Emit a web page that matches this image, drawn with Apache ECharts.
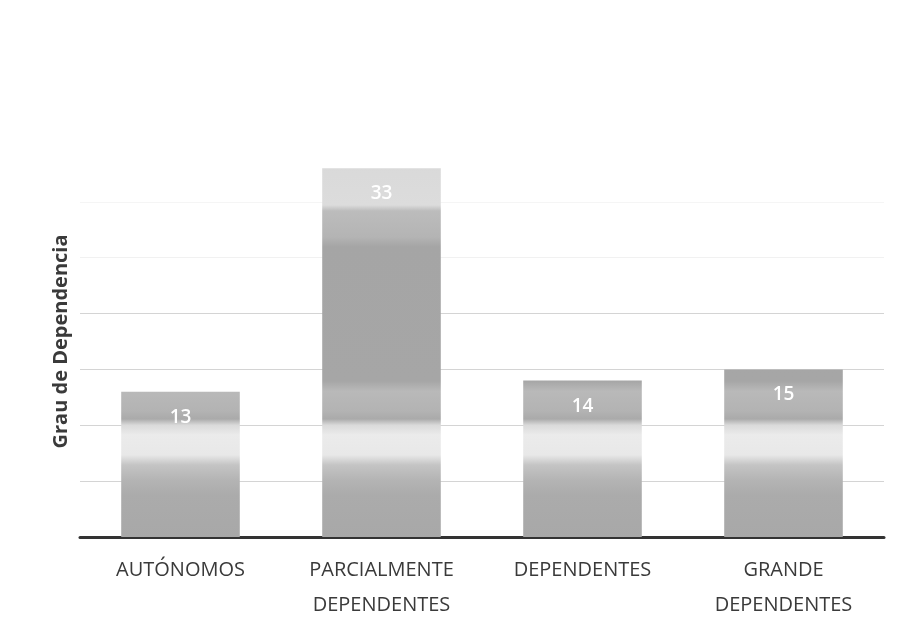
<!DOCTYPE html>
<html>
<head>
<meta charset="utf-8">
<script src="https://cdn.jsdelivr.net/npm/echarts@6/dist/echarts.min.js"></script>
<style>
  html, body { margin: 0; padding: 0; background: #ffffff; }
  #chart { width: 901px; height: 619px; }
</style>
</head>
<body>
<div id="chart"></div>
<script>
const categories = ["AUTÓNOMOS", "PARCIALMENTE\nDEPENDENTES", "DEPENDENTES", "GRANDE\nDEPENDENTES"];
const values = [13, 33, 14, 15];

// scanned-look banding, shared by all bars (pixel coords of the plot area)
const barShade = new echarts.graphic.LinearGradient(0, 146, 0, 537, [
  { offset: 0.000, color: "#d8d8d8" },
  { offset: 0.151, color: "#dcdcdc" },
  { offset: 0.166, color: "#bcbcbc" },
  { offset: 0.233, color: "#b4b4b4" },
  { offset: 0.258, color: "#a5a5a5" },
  { offset: 0.601, color: "#a6a6a6" },
  { offset: 0.627, color: "#b9b9b9" },
  { offset: 0.678, color: "#b3b3b3" },
  { offset: 0.698, color: "#aaaaaa" },
  { offset: 0.714, color: "#dadada" },
  { offset: 0.739, color: "#ebebeb" },
  { offset: 0.790, color: "#e8e8e8" },
  { offset: 0.816, color: "#c4c4c4" },
  { offset: 0.854, color: "#b4b4b4" },
  { offset: 0.893, color: "#ababab" },
  { offset: 1.000, color: "#a8a8a8" }
], true);

const chart = echarts.init(document.getElementById("chart"));

chart.setOption({
  animation: false,
  grid: { left: 80, right: 17, top: 146, bottom: 82, outerBoundsMode: "none", containLabel: false },
  xAxis: {
    type: "category",
    data: categories,
    axisTick: { show: false },
    axisLine: { lineStyle: { color: "#333333", width: 3 } },
    axisLabel: {
      color: "#3a3a3a",
      fontFamily: "Open Sans",
      fontSize: 20,
      lineHeight: 35,
      margin: 16
    }
  },
  yAxis: {
    type: "value",
    min: 0,
    max: 35,
    interval: 5,
    name: "Grau de Dependencia",
    nameLocation: "middle",
    nameGap: 9,
    nameTextStyle: {
      color: "#3a3a3a",
      fontFamily: "Open Sans",
      fontWeight: "bold",
      fontSize: 20
    },
    axisLabel: { show: false },
    axisLine: { show: false },
    axisTick: { show: false },
    splitLine: {
      lineStyle: {
        color: ["#d4d4d4", "#d4d4d4", "#d4d4d4", "#d4d4d4", "#d4d4d4", "#f1f1f1", "#f5f5f5", "#ffffff"],
        width: 1
      }
    }
  },
  series: [{
    type: "bar",
    data: values,
    barWidth: "59%",
    itemStyle: { color: barShade },
    label: {
      show: true,
      position: "insideTop",
      distance: 16,
      color: "#ffffff",
      fontFamily: "Open Sans",
      fontWeight: 600,
      fontSize: 19
    }
  }]
});
</script>
</body>
</html>
